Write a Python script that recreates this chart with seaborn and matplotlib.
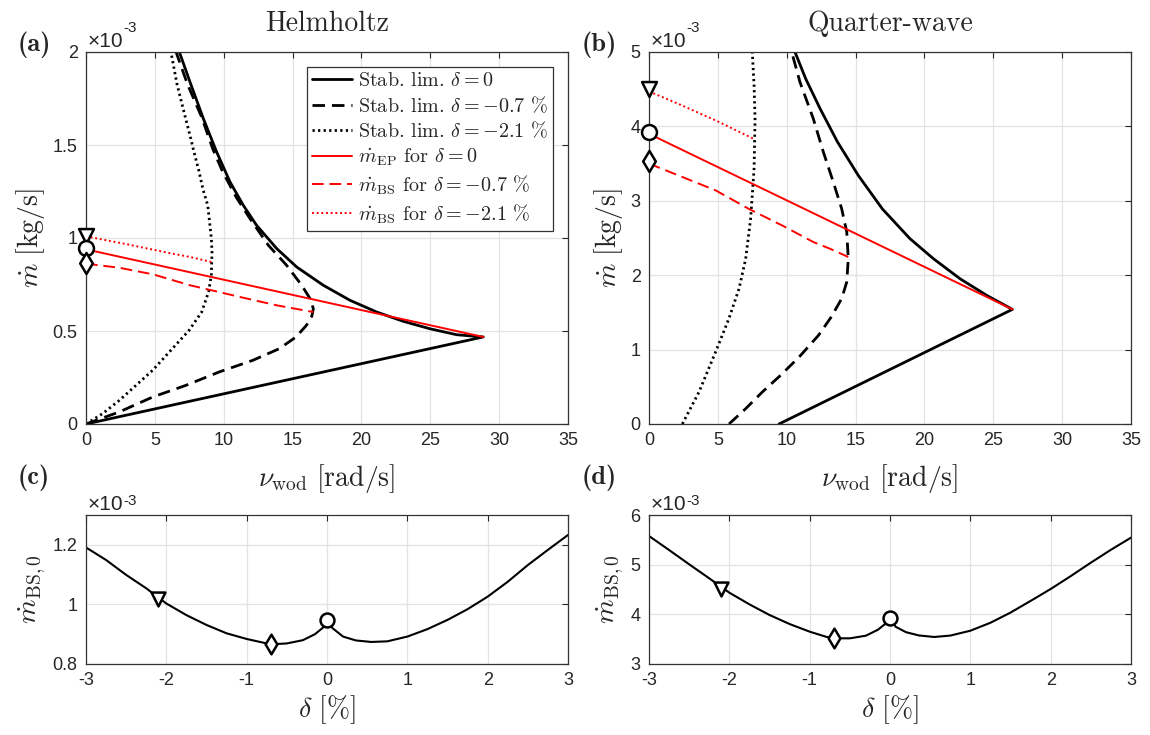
import matplotlib
matplotlib.use("Agg")
import matplotlib.pyplot as plt
import seaborn as sns

# mass flow values are in units of 1e-3 kg/s

# (a) Helmholtz
nu_a_lim0 = [0, 28.85, 26.92, 24.98, 23.04, 21.11, 19.17, 17.23, 15.30, 13.85, 12.39, 11.42,
             10.46, 9.49, 8.52, 7.55, 6.78]
m_a_lim0 = [0, 0.468, 0.480, 0.512, 0.552, 0.602, 0.665, 0.746, 0.844, 0.943, 1.068, 1.176,
            1.301, 1.462, 1.642, 1.839, 2.0]
nu_a_lim07 = [0, 2.42, 4.84, 7.26, 9.68, 12.1, 14.04, 15.25, 16.0, 16.4, 16.51, 16.27, 15.66,
              14.57, 13.24, 11.91, 10.9, 9.9, 9.2, 8.4, 7.35, 6.54]
m_a_lim07 = [0, 0.065, 0.145, 0.208, 0.28, 0.342, 0.405, 0.468, 0.53, 0.58, 0.62, 0.674, 0.746,
             0.853, 0.961, 1.104, 1.22, 1.36, 1.48, 1.65, 1.83, 2.0]
nu_a_lim21 = [0, 1.21, 2.42, 3.63, 4.84, 6.05, 7.5, 8.4, 8.9, 9.1, 9.15, 9.1, 8.84, 8.5, 8.2,
              7.85, 7.55, 7.14, 6.6, 6.17]
m_a_lim21 = [0, 0.056, 0.127, 0.208, 0.289, 0.387, 0.505, 0.602, 0.71, 0.80, 0.925, 1.0, 1.176,
             1.26, 1.36, 1.46, 1.552, 1.67, 1.83, 2.0]
nu_a_ep = [0, 28.85]
m_a_ep = [0.939, 0.468]
nu_a_bs07 = [0, 2.42, 4.84, 7.55, 11.18, 13.85, 16.51]
m_a_bs07 = [0.862, 0.84, 0.805, 0.746, 0.683, 0.638, 0.602]
nu_a_bs21 = [0, 3, 6, 7.55, 9.12]
m_a_bs21 = [1.009, 0.966, 0.92, 0.898, 0.871]
m_a_marks = [1.012, 0.945, 0.865]   # triangle, circle, diamond at nu = 0

# (b) Quarter-wave
nu_b_lim0 = [9.44, 26.39, 24.52, 22.58, 20.65, 18.95, 16.95, 15.2, 13.69, 12.42, 11.38, 10.6]
m_b_lim0 = [0, 1.541, 1.729, 1.953, 2.222, 2.491, 2.89, 3.34, 3.79, 4.24, 4.64, 5.0]
nu_b_lim07 = [5.81, 7.02, 8.23, 9.55, 10.9, 12.3, 13.2, 13.99, 14.36, 14.47, 14.36, 13.99,
              13.38, 12.66, 11.93, 10.96, 10.36]
m_b_lim07 = [0, 0.206, 0.43, 0.654, 0.9, 1.19, 1.43, 1.684, 1.909, 2.222, 2.581, 2.894, 3.253,
             3.656, 4.104, 4.597, 5.0]
nu_b_lim21 = [2.42, 3.63, 4.84, 5.81, 6.54, 7.02, 7.38, 7.63, 7.70, 7.63, 7.5]
m_b_lim21 = [0, 0.43, 0.97, 1.42, 1.82, 2.22, 2.76, 3.43, 4.10, 4.55, 5.0]
nu_b_ep = [0, 26.39]
m_b_ep = [3.90, 1.541]
nu_b_bs07 = [0, 2.42, 4.84, 7.26, 9.75, 11.93, 13.14, 14.47]
m_b_bs07 = [3.50, 3.32, 3.14, 2.89, 2.661, 2.446, 2.356, 2.245]
nu_b_bs21 = [0, 2.42, 4.84, 7.63]
m_b_bs21 = [4.47, 4.28, 4.08, 3.83]
m_b_marks = [4.50, 3.92, 3.53]

# (c), (d) bistable mass flow vs detuning
delta = [-3, -2.75, -2.5, -2.25, -2, -1.75, -1.5, -1.25, -1, -0.8, -0.7, -0.5, -0.3, -0.15, -0.05,
         0, 0.07, 0.2, 0.36, 0.55, 0.75, 1.0, 1.25, 1.5, 1.75, 2.0, 2.25, 2.5, 2.75, 3.0]
m_c = [1.191, 1.149, 1.099, 1.054, 1.003, 0.964, 0.931, 0.903, 0.884, 0.872, 0.866, 0.869, 0.880,
       0.900, 0.922, 0.942, 0.92, 0.892, 0.879, 0.874, 0.876, 0.892, 0.917, 0.948, 0.984, 1.026,
       1.076, 1.132, 1.183, 1.233]
m_d = [5.577, 5.295, 5.007, 4.725, 4.436, 4.201, 3.987, 3.805, 3.651, 3.55, 3.517, 3.517, 3.57,
       3.69, 3.82, 3.933, 3.75, 3.64, 3.575, 3.544, 3.572, 3.67, 3.83, 4.035, 4.27, 4.51, 4.77,
       5.04, 5.30, 5.544]
delta_marks = [-2.1, 0, -0.7]        # triangle, circle, diamond
m_c_marks = [1.017, 0.948, 0.866]
m_d_marks = [4.52, 3.93, 3.52]

sns.set_style("whitegrid")
plt.rcParams.update({
    "font.family": ["Liberation Sans", "DejaVu Sans"],
    "mathtext.fontset": "cm",
    "axes.unicode_minus": False,
    "axes.edgecolor": "#333333",
    "axes.linewidth": 0.9,
    "grid.color": "#e3e3e3",
    "grid.linewidth": 0.9,
    "xtick.direction": "in",
    "ytick.direction": "in",
    "xtick.top": True,
    "ytick.right": True,
    "xtick.major.size": 4,
    "ytick.major.size": 4,
    "xtick.major.width": 0.8,
    "ytick.major.width": 0.8,
    "xtick.color": "#262626",
    "ytick.color": "#262626",
    "xtick.labelsize": 13,
    "ytick.labelsize": 13,
})

W, H = 1150, 735
fig = plt.figure(figsize=(11.5, 7.35), dpi=100)


def box(x0, y0, x1, y1):
    return [x0 / W, 1 - y1 / H, (x1 - x0) / W, (y1 - y0) / H]


ax_a = fig.add_axes(box(86, 52, 568, 424))
ax_b = fig.add_axes(box(649, 52, 1131, 424))
ax_c = fig.add_axes(box(86, 515, 568, 664))
ax_d = fig.add_axes(box(649, 515, 1131, 664))

lab_fs = 20
serif = "cmr10"


def line(ax, x, y, color, lw, ls, label=None):
    sns.lineplot(x=x, y=y, sort=False, estimator=None, ax=ax, color=color,
                 linewidth=lw, linestyle=ls, label=label, legend=False)


def marks(ax, xs, ys, size=115):
    for x, y, mk in zip(xs, ys, ["v", "o", "d"]):
        sns.scatterplot(x=[x], y=[y], ax=ax, marker=mk, s=size, color="white",
                        edgecolor="black", linewidth=1.8, zorder=6, clip_on=False,
                        legend=False)


def top_panel(ax, d, ymax, title):
    line(ax, d[0], d[1], "black", 2.0, "-", r"Stab. lim. $\delta = 0$")
    line(ax, d[2], d[3], "black", 2.0, (0, (4.5, 2.5)), r"Stab. lim. $\delta = -0.7$ %")
    line(ax, d[4], d[5], "black", 2.0, (0, (0.8, 1.2)), r"Stab. lim. $\delta = -2.1$ %")
    line(ax, d[6], d[7], "red", 1.4, "-", r"$\dot{m}_{\mathrm{EP}}$ for $\delta = 0$")
    line(ax, d[8], d[9], "red", 1.4, (0, (6, 3)), r"$\dot{m}_{\mathrm{BS}}$ for $\delta = -0.7$ %")
    line(ax, d[10], d[11], "red", 1.4, (0, (1, 1.4)), r"$\dot{m}_{\mathrm{BS}}$ for $\delta = -2.1$ %")
    ax.set_xlim(0, 35)
    ax.set_ylim(0, ymax)
    ax.set_xticks(range(0, 36, 5))
    ax.set_xlabel(r"$\nu_{\mathrm{wod}}\ [\mathrm{rad/s}]$", fontsize=lab_fs, labelpad=9)
    ax.set_ylabel(r"$\dot{m}\ [\mathrm{kg/s}]$", fontsize=lab_fs)
    ax.set_title(title, fontsize=20, family=serif, pad=15)


top_panel(ax_a, [nu_a_lim0, m_a_lim0, nu_a_lim07, m_a_lim07, nu_a_lim21, m_a_lim21,
                 nu_a_ep, m_a_ep, nu_a_bs07, m_a_bs07, nu_a_bs21, m_a_bs21], 2, "Helmholtz")
ax_a.set_yticks([0, 0.5, 1, 1.5, 2])
ax_a.set_yticklabels(["0", "0.5", "1", "1.5", "2"])
marks(ax_a, [0, 0, 0], m_a_marks)

top_panel(ax_b, [nu_b_lim0, m_b_lim0, nu_b_lim07, m_b_lim07, nu_b_lim21, m_b_lim21,
                 nu_b_ep, m_b_ep, nu_b_bs07, m_b_bs07, nu_b_bs21, m_b_bs21], 5, "Quarter-wave")
ax_b.set_yticks(range(0, 6))
marks(ax_b, [0, 0, 0], m_b_marks)

leg = ax_a.legend(loc="upper right", bbox_to_anchor=(0.969, 0.96), borderaxespad=0,
                  prop={"family": serif, "size": 14.5}, handlelength=2.0, handletextpad=0.3,
                  labelspacing=0.26, borderpad=0.25, fancybox=False, framealpha=1)
leg.get_frame().set_edgecolor("#333333")
leg.get_frame().set_linewidth(0.9)

for ax, m, mk, ylim, yt, ytl in [
        (ax_c, m_c, m_c_marks, (0.8, 1.3), [0.8, 1.0, 1.2], ["0.8", "1", "1.2"]),
        (ax_d, m_d, m_d_marks, (3, 6), [3, 4, 5, 6], ["3", "4", "5", "6"])]:
    line(ax, delta, m, "black", 1.5, "-")
    marks(ax, delta_marks, mk, size=100)
    ax.set_xlim(-3, 3)
    ax.set_ylim(*ylim)
    ax.set_xticks(range(-3, 4))
    ax.set_yticks(yt)
    ax.set_yticklabels(ytl)
    ax.set_xlabel(r"$\delta\ [\%]$", fontsize=lab_fs, labelpad=3)
    ax.set_ylabel(r"$\dot{m}_{\mathrm{BS},0}$", fontsize=lab_fs)

for ax in [ax_a, ax_b, ax_c, ax_d]:
    for s in ax.spines.values():
        s.set_visible(True)
    ax.tick_params(axis="both", which="both", direction="in", top=True, right=True, pad=6)
    ax.text(0.004, 1.004, "\u00d710", transform=ax.transAxes, fontsize=15,
            ha="left", va="bottom", color="#262626")
    ax.text(0.078, 1.045, "-3", transform=ax.transAxes, fontsize=11,
            ha="left", va="bottom", color="#262626")

for x, y, t in [(18, 45, "(a)"), (582, 45, "(b)"), (18, 478, "(c)"), (582, 478, "(d)")]:
    fig.text(x / W, 1 - y / H, t, fontsize=19, family="cmb10", ha="left", va="center")

fig.savefig("out.png", dpi=100)
